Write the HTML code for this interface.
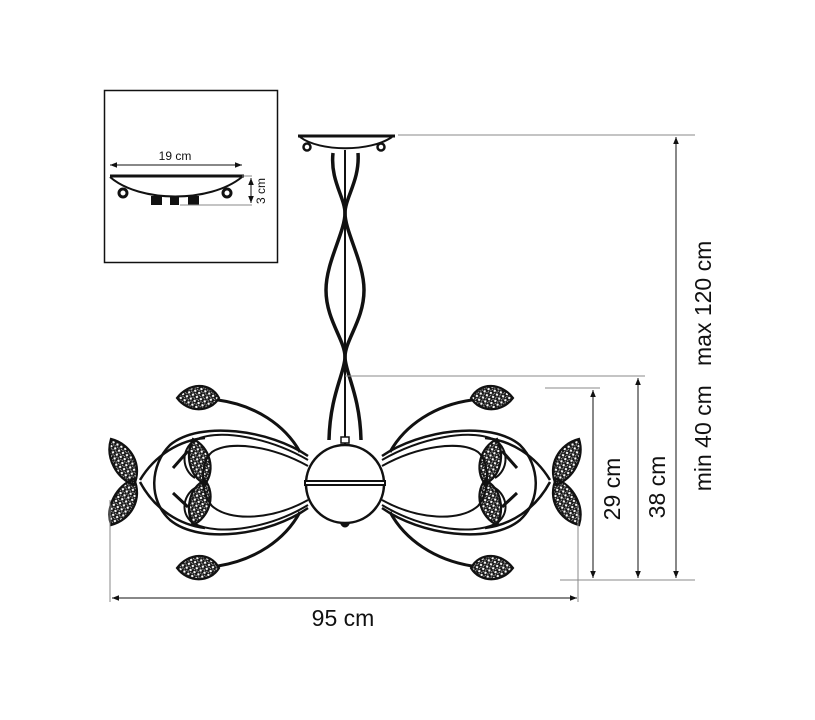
<!DOCTYPE html>
<html><head><meta charset="utf-8"><style>
html,body{margin:0;padding:0;background:#fff;width:815px;height:720px;overflow:hidden}
text{font-family:"Liberation Sans",sans-serif;fill:#111}
</style></head><body>
<svg width="815" height="720" viewBox="0 0 815 720" xmlns="http://www.w3.org/2000/svg">
<defs>
<pattern id="hatch" width="4.5" height="4.5" patternUnits="userSpaceOnUse" patternTransform="rotate(30)">
<path d="M0 0 L4.5 4.5 M4.5 0 L0 4.5 M2.25 0 V4.5" stroke="#111" stroke-width="1.1"/>
</pattern>
<marker id="ah" viewBox="0 0 10 10" refX="10" refY="5" markerWidth="7" markerHeight="7" orient="auto-start-reverse"><path d="M0 1 L10 5 L0 9 z" fill="#111"/></marker>
<g id="half" fill="none" stroke="#111" stroke-width="3">
 <path d="M218 400 C255 405 285 425 300 452"/>
 <path d="M218 566 C255 560 285 540 300 512"/>
 <path d="M308 456 C270 430 200 420 170 445 C150 465 148 500 170 520 C200 545 270 535 308 508" stroke-width="2.5"/>
 <path d="M308 460 C270 438 220 428 195 440 C180 450 182 470 195 478" stroke-width="2"/>
 <path d="M308 466 C272 446 230 440 212 452 C200 462 200 492 212 506 C230 522 272 520 308 500" stroke-width="2"/>
 <path d="M308 505 C270 528 220 536 195 524 C180 516 182 496 195 488" stroke-width="2"/>
 <path d="M173 468 L188 451 M173 493 L188 507" stroke-width="3"/>
 <path d="M140 480 C155 455 180 440 205 438" stroke-width="2.5"/>
 <path d="M140 482 C155 510 180 525 205 528" stroke-width="2.5"/>
 <g fill="url(#hatch)" stroke-width="2.2">
  <path d="M177 398 C188 383 210 381 219 398 C210 413 188 413 177 398 Z"/>
  <path d="M177 568 C188 553 210 551 219 568 C210 583 188 583 177 568 Z"/>
  <path d="M111 439 C131 444 143 465 134 485 C117 479 105 458 111 439 Z"/>
  <path d="M111 525 C131 520 143 499 134 479 C117 485 105 506 111 525 Z"/>
  <path d="M193 439 C210 447 216 470 205 484 C189 476 185 455 193 439 Z"/>
  <path d="M193 525 C210 517 216 494 205 480 C189 488 185 509 193 525 Z"/>
 </g>
</g>
</defs>

<rect x="104.5" y="90.5" width="173" height="172" fill="none" stroke="#111" stroke-width="1.5"/>
<text x="175" y="160" font-size="12" text-anchor="middle">19 cm</text>
<line x1="110" y1="165" x2="242" y2="165" stroke="#111" stroke-width="1" marker-start="url(#ah)" marker-end="url(#ah)"/>
<line x1="110" y1="176" x2="244" y2="176" stroke="#111" stroke-width="3"/>
<path d="M110 177 C140 203 210 203 242 177" fill="none" stroke="#111" stroke-width="2"/>
<circle cx="123" cy="193" r="4" fill="none" stroke="#111" stroke-width="3"/>
<circle cx="227" cy="193" r="4" fill="none" stroke="#111" stroke-width="3"/>
<rect x="151" y="196" width="11" height="9" fill="#111"/><rect x="170" y="197" width="9" height="8" fill="#111"/><rect x="188" y="196" width="11" height="9" fill="#111"/>
<line x1="242" y1="176" x2="252" y2="176" stroke="#888" stroke-width="1"/>
<line x1="180" y1="205" x2="252" y2="205" stroke="#888" stroke-width="1"/>
<line x1="251" y1="178" x2="251" y2="203" stroke="#111" stroke-width="1" marker-start="url(#ah)" marker-end="url(#ah)"/>
<text transform="translate(265 191) rotate(-90)" font-size="12" text-anchor="middle">3 cm</text>

<line x1="298" y1="136" x2="395" y2="136" stroke="#111" stroke-width="3"/>
<path d="M300 137 C320 152 370 152 392 137" fill="none" stroke="#111" stroke-width="2"/>
<circle cx="307" cy="147" r="3.5" fill="none" stroke="#111" stroke-width="2.5"/>
<circle cx="381" cy="147" r="3.5" fill="none" stroke="#111" stroke-width="2.5"/>
<g fill="none" stroke="#111" stroke-width="3.5">
<path d="M333 153 C330 180 345 198 345 213 C345 232 326 262 326 290 C326 320 345 340 345 357 C345 372 330 395 329 440"/>
<path d="M358 153 C360 180 345 198 345 213 C345 232 364 262 364 290 C364 320 345 340 345 357 C345 372 360 395 361 440"/>
<line x1="345" y1="150" x2="345" y2="444" stroke-width="2"/>
</g>
<rect x="341" y="437" width="8" height="6" fill="#fff" stroke="#111" stroke-width="1.5"/>

<use href="#half"/>
<use href="#half" transform="translate(690 0) scale(-1 1)"/>

<circle cx="345" cy="484" r="39" fill="#fff" stroke="#111" stroke-width="2.5"/>
<rect x="305" y="481" width="80" height="4" fill="#fff" stroke="#111" stroke-width="2"/>
<path d="M340 523 C342 529 348 529 350 523 Z" fill="#111"/>

<g stroke="#888" stroke-width="1" fill="none">
<line x1="398" y1="135" x2="695" y2="135"/>
<line x1="345" y1="376" x2="645" y2="376"/>
<line x1="545" y1="388" x2="600" y2="388"/>
<line x1="560" y1="580" x2="695" y2="580"/>
<line x1="110" y1="500" x2="110" y2="602"/>
<line x1="578" y1="505" x2="578" y2="602"/>
</g>
<g stroke="#111" stroke-width="1">
<line x1="676" y1="137" x2="676" y2="578" marker-start="url(#ah)" marker-end="url(#ah)"/>
<line x1="638" y1="378" x2="638" y2="578" marker-start="url(#ah)" marker-end="url(#ah)"/>
<line x1="593" y1="390" x2="593" y2="578" marker-start="url(#ah)" marker-end="url(#ah)"/>
<line x1="112" y1="598" x2="577" y2="598" marker-start="url(#ah)" marker-end="url(#ah)"/>
</g>
<text x="343" y="626" font-size="23" text-anchor="middle">95 cm</text>
<text transform="translate(620 489) rotate(-90)" font-size="23" text-anchor="middle">29 cm</text>
<text transform="translate(665 487) rotate(-90)" font-size="23" text-anchor="middle">38 cm</text>
<text transform="translate(711 366) rotate(-90)" font-size="23" text-anchor="middle" xml:space="preserve">min 40 cm   max 120 cm</text>
</svg>
</body></html>
